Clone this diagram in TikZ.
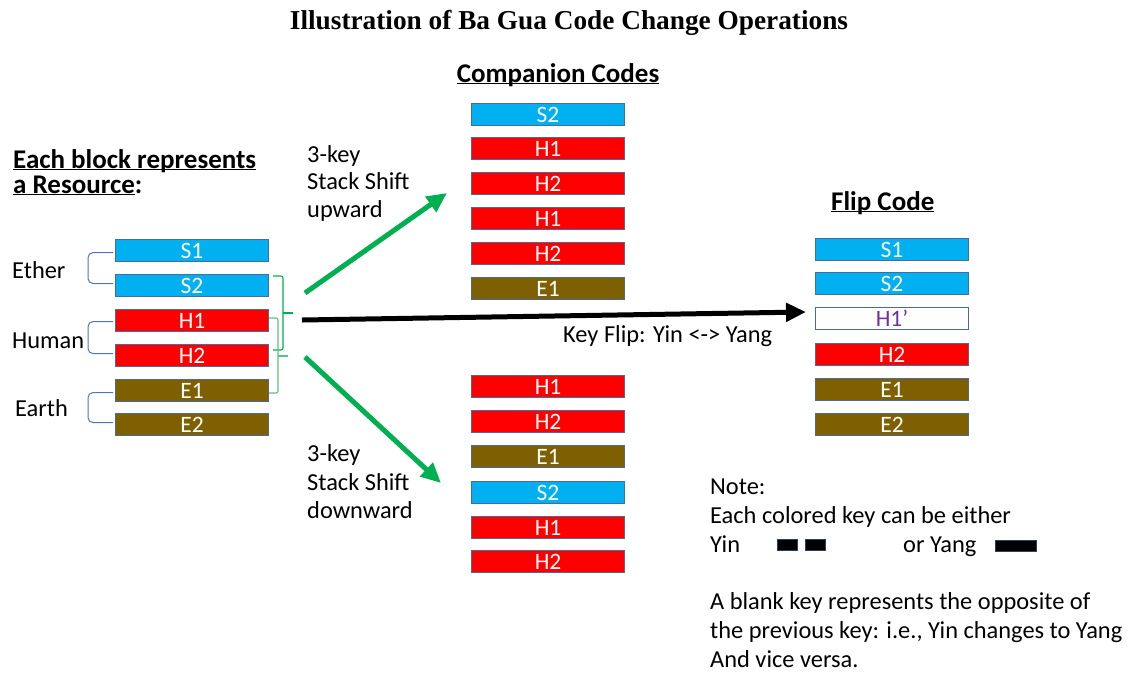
\documentclass[tikz,border=0pt]{standalone}
\usepackage{fontspec}
\setmainfont{Carlito}
\newfontfamily\titlefont{Liberation Serif}
\usetikzlibrary{arrows.meta}

\definecolor{skyc}{HTML}{00B0F0}
\definecolor{redc}{HTML}{FF0000}
\definecolor{earthc}{HTML}{7F6000}
\definecolor{edgec}{HTML}{4A6A9E}
\definecolor{bracec}{HTML}{4F74C0}
\definecolor{greenc}{HTML}{00B050}
\definecolor{lgreenc}{HTML}{5CC27E}
\definecolor{purplec}{HTML}{7030A0}

\newcommand\ulsmash[1]{\underline{\smash{#1}}}

\tikzset{
  key/.style={draw=edgec, line width=1.1pt, minimum width=153pt, minimum height=22pt,
    inner sep=0pt, anchor=north west, text=white, font=\fontsize{23.5}{23.5}\selectfont},
  sky/.style={key, fill=skyc},
  hum/.style={key, fill=redc},
  ear/.style={key, fill=earthc},
  blank/.style={key, fill=white, text=purplec},
  txt/.style={anchor=base west, inner sep=0pt, font=\fontsize{24.4}{28}\selectfont},
  head/.style={anchor=base west, inner sep=0pt, font=\fontsize{27}{30}\selectfont\bfseries},
  bracel/.style={draw=bracec, line width=1pt, rounded corners=5pt},
  bracer/.style={draw=greenc, line width=1.1pt, rounded corners=2pt},
  shift arrow/.style={draw=greenc, line width=5pt, -{Triangle[length=20pt,width=18pt]}},
  flip arrow/.style={draw=black, line width=5pt, -{Triangle[length=20pt,width=18pt]}},
  yinyang/.style={fill=black, draw=edgec!60!black, line width=0.6pt}
}

\begin{document}
\begin{tikzpicture}[x=1pt,y=-1pt]
\useasboundingbox (0,0) rectangle (1132,673);

% title and headings
\node[anchor=base, inner sep=0pt, font=\titlefont\fontsize{27.3}{30}\selectfont\bfseries]
  (title) at (569,29) {Illustration of Ba Gua Code Change Operations};
\node[head, anchor=base] (comp) at (558,82) {\ulsmash{Companion Codes}};
\node[head] (res1) at (13,168) {\ulsmash{Each block represents}};
\node[head] (res2) at (13,193) {\ulsmash{a Resource}:};
\node[head] (fliph) at (831,210) {\ulsmash{Flip Code}};

% original stack
\node[sky] (L1) at (115,239) {S1};
\node[sky] (L2) at (115,274) {S2};
\node[hum] (L3) at (115,309) {H1};
\node[hum] (L4) at (115,344) {H2};
\node[ear] (L5) at (115,379) {E1};
\node[ear] (L6) at (115,413) {E2};

% resource groups
\draw[bracel] ([xshift=-2pt,yshift=-2pt]L1.west) -- ++(-25,0) |- ([xshift=-2pt,yshift=2pt]L2.west);
\draw[bracel] ([xshift=-2pt,yshift=-1pt]L3.west) -- ++(-25,0) |- ([xshift=-2pt,yshift=2pt]L4.west);
\draw[bracel] ([xshift=-2pt,yshift=-2pt]L5.west) -- ++(-25,0) |- ([xshift=-2pt,yshift=2pt]L6.west);
\node[txt] (ether) at (12,278) {Ether};
\node[txt] (human) at (12,348) {Human};
\node[txt] (earth) at (15,416) {Earth};

% three-key windows
\draw[bracer] (273,276) -- (283,276) -- (283,350) -- (273,350);
\draw[bracer] (283,313) -- (293,313);
\draw[bracer, draw=lgreenc] (269,318) -- (278,318) -- (278,393) -- (269,393);
\draw[bracer, draw=lgreenc] (278,356) -- (288,356);

% companion code, shifted upward
\node[sky] (U1) at (471,103) {S2};
\node[hum] (U2) at (471,137) {H1};
\node[hum] (U3) at (471,172) {H2};
\node[hum] (U4) at (471,207) {H1};
\node[hum] (U5) at (471,242) {H2};
\node[ear] (U6) at (471,277) {E1};

% companion code, shifted downward
\node[hum] (D1) at (471,375) {H1};
\node[hum] (D2) at (471,410) {H2};
\node[ear] (D3) at (471,445) {E1};
\node[sky] (D4) at (471,481) {S2};
\node[hum] (D5) at (471,516) {H1};
\node[hum] (D6) at (471,550) {H2};

% flip code
\node[sky] (F1) at (815,238) {S1};
\node[sky] (F2) at (815,272) {S2};
\node[blank] (F3) at (815,307) {H1’};
\node[hum] (F4) at (815,343) {H2};
\node[ear] (F5) at (815,378) {E1};
\node[ear] (F6) at (815,413) {E2};

% operations
\coordinate (upS) at (305,293);
\coordinate (upE) at (447,193);
\coordinate (dnS) at (305,357);
\coordinate (dnE) at (441,483);
\coordinate (flS) at (302,320);
\coordinate (flE) at (806,312);
\draw[shift arrow] (upS) -- (upE);
\draw[shift arrow] (dnS) -- (dnE);
\draw[flip arrow] (flS) -- (flE);

\node[txt] (u1) at (307,162) {3-key};
\node[txt] (u2) at (307,189) {Stack Shift};
\node[txt] (u3) at (307,217) {upward};
\node[txt] (d1) at (307,461) {3-key};
\node[txt] (d2) at (307,490) {Stack Shift};
\node[txt] (d3) at (307,518) {downward};
\node[txt] (kf) at (563,342) {Key Flip: Yin <-> Yang};

% note
\node[txt] (n1) at (710,494) {Note:};
\node[txt] (n2) at (710,523) {Each colored key can be either};
\node[txt] (n3) at (710,552) {Yin};
\node[txt] (n4) at (903,552) {or Yang};
\path[yinyang] (777,539) rectangle (797,550);
\path[yinyang] (805,539) rectangle (825,550);
\path[yinyang] (995,540) rectangle (1036,551);
\node[txt] (n5) at (710,609) {A blank key represents the opposite of};
\node[txt] (n6) at (710,638) {the previous key: i.e., Yin changes to Yang};
\node[txt] (n7) at (710,667) {And vice versa.};
\end{tikzpicture}
\end{document}
